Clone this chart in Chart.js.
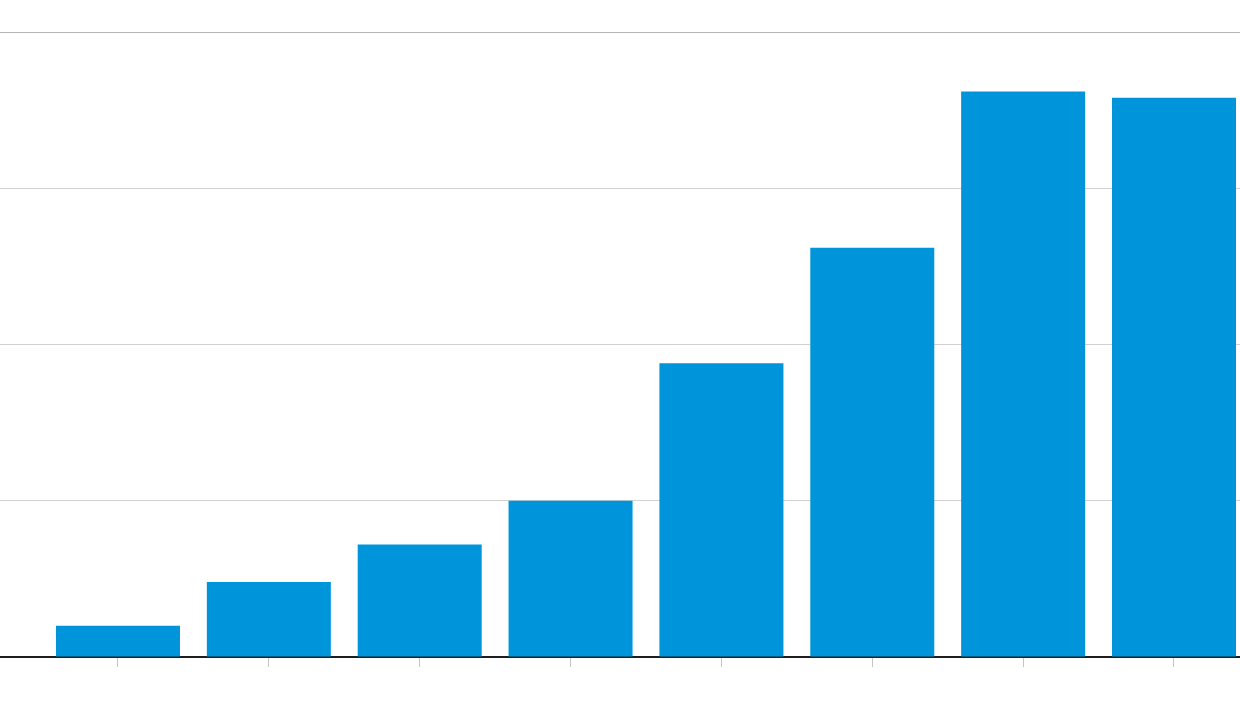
<!DOCTYPE html>
<html>
<head>
<meta charset="utf-8">
<script src="https://cdn.jsdelivr.net/npm/chart.js@4"></script>
<style>
  html, body { margin: 0; padding: 0; background: #ffffff; }
  #wrap { width: 1240px; height: 720px; }
</style>
</head>
<body>
<div id="wrap"><canvas id="barChart"></canvas></div>
<script>
// Bar values (y axis runs 0 to 4, gridline every 1)
const categories = [0, 1, 2, 3, 4, 5, 6, 7];
const values = [0.2, 0.48, 0.72, 1.0, 1.88, 2.62, 3.62, 3.58];
const yTicks = [0, 1, 2, 3, 4];

const ctx = document.getElementById("barChart").getContext("2d");

new Chart(ctx, {
  type: "bar",
  data: {
    datasets: [
      {
        data: categories.map((c, i) => ({ x: c, y: values[i] })),
        backgroundColor: "#0095da",
        borderWidth: 0,
        categoryPercentage: 1,
        barPercentage: 0.822
      }
    ]
  },
  options: {
    responsive: true,
    maintainAspectRatio: false,
    animation: false,
    layout: {
      padding: { top: 32, bottom: 53, left: 0, right: 0 }
    },
    plugins: {
      legend: { display: false },
      tooltip: { enabled: false }
    },
    scales: {
      x: {
        type: "linear",
        offset: false,
        min: -0.782,
        max: 7.4375,
        z: 1,
        afterBuildTicks: (axis) => {
          axis.ticks = categories.map((v) => ({ value: v }));
        },
        grid: {
          offset: false,
          drawOnChartArea: false,
          drawTicks: true,
          tickLength: 10,
          color: "#c4c4c4"
        },
        border: { display: true, color: "#1e1e1e", width: 2 },
        ticks: { display: false }
      },
      y: {
        min: yTicks[0],
        max: yTicks[yTicks.length - 1],
        afterBuildTicks: (axis) => {
          axis.ticks = yTicks.map((v) => ({ value: v }));
        },
        grid: {
          drawTicks: false,
          color: (c) => (c.index === yTicks.length - 1 ? "#b5b5b5" : "#d2d2d2")
        },
        border: { display: false },
        ticks: { display: false }
      }
    }
  }
});
</script>
</body>
</html>
